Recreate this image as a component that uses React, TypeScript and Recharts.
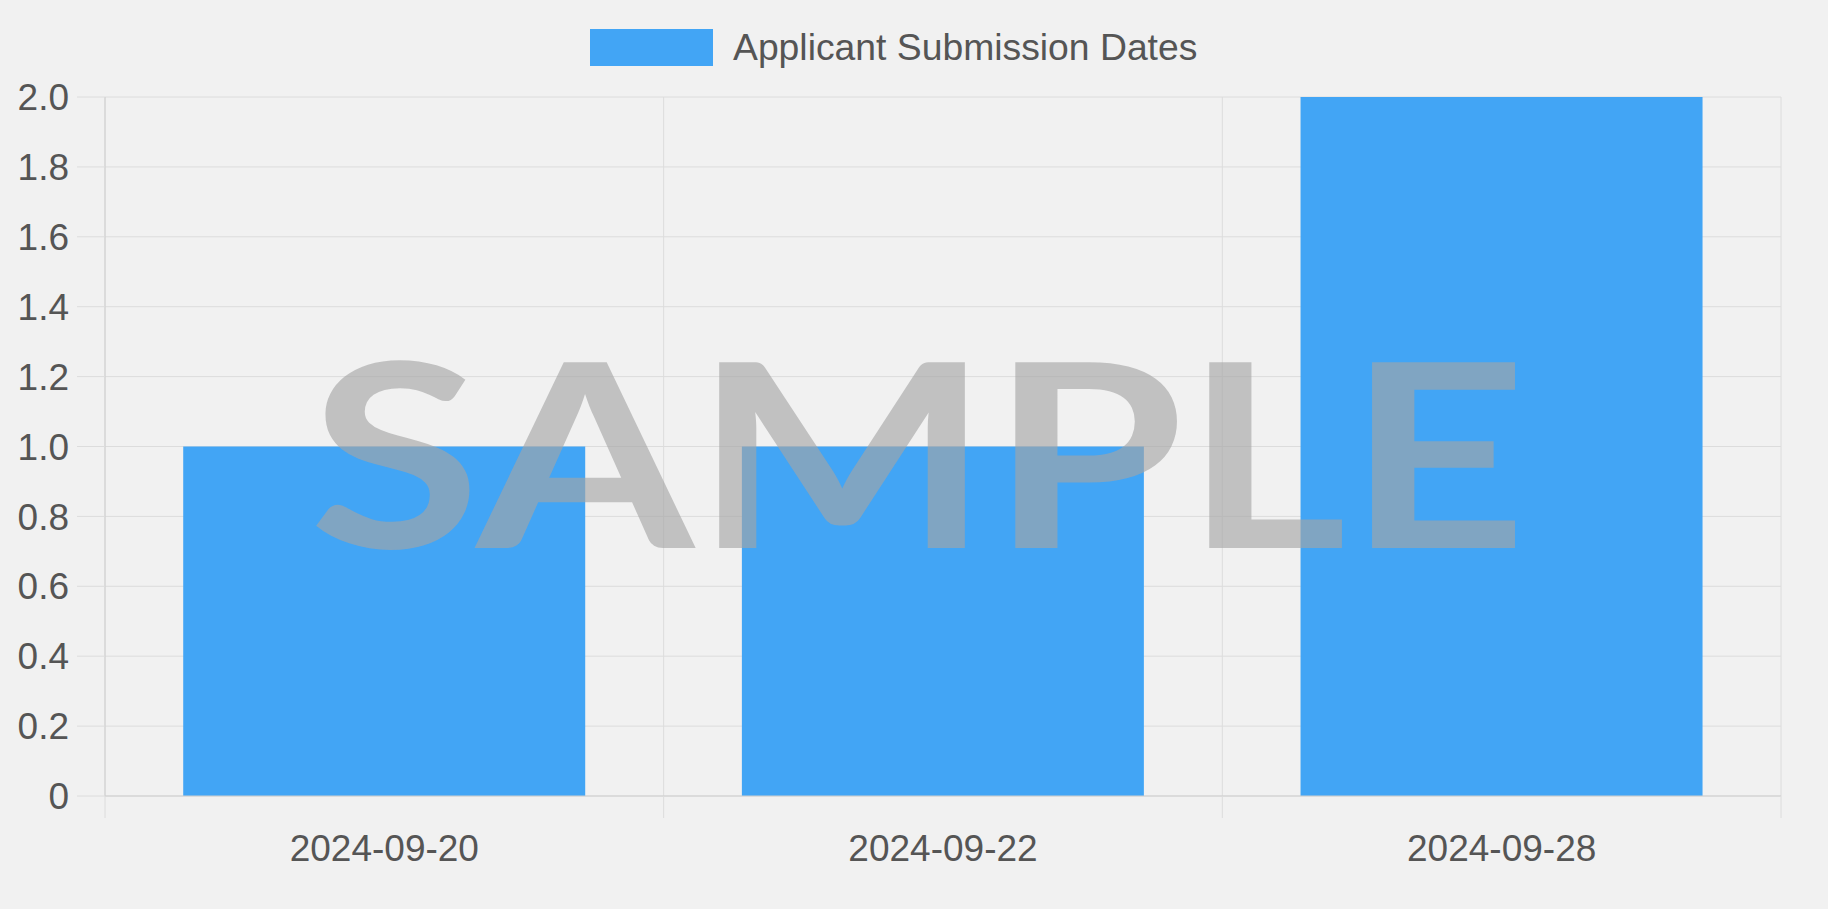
import React from 'react';
import { BarChart, Bar, XAxis, YAxis, CartesianGrid } from 'recharts';

const categories = ['2024-09-20', '2024-09-22', '2024-09-28'];
const submissions = [1, 1, 2];
const yTicks = [0, 0.2, 0.4, 0.6, 0.8, 1.0, 1.2, 1.4, 1.6, 1.8, 2.0];
const seriesName = 'Applicant Submission Dates';
const watermark = 'SAMPLE';

const BAR_COLOR = '#42A5F5';
const GRID_COLOR = '#dcdcdc';
const AXIS_COLOR = '#cfcfcf';
const TEXT_COLOR = '#555';
const FONT = "'Liberation Sans', Arial, Helvetica, sans-serif";
const X_TICK_LEN = 22;

const data = categories.map((date, i) => ({ date, count: submissions[i] }));

// chart.js style: tick marks sit on the category boundaries, label in the middle
const XTick = (props: any) => {
  const { x, y, payload, index, visibleTicksCount, width } = props;
  const half = (payload && payload.offset) || width / visibleTicksCount / 2;
  const top = y - X_TICK_LEN;
  return (
    <g>
      <line x1={x - half} x2={x - half} y1={top} y2={y} stroke={GRID_COLOR} />
      {index === visibleTicksCount - 1 && (
        <line x1={x + half} x2={x + half} y1={top} y2={y} stroke={GRID_COLOR} />
      )}
      <text x={x} y={y + 43} textAnchor="middle" fill={TEXT_COLOR} fontSize={37} fontFamily={FONT}>
        {payload.value}
      </text>
    </g>
  );
};

export default function App() {
  return (
    <div
      style={{
        position: 'absolute',
        left: 0,
        top: 0,
        width: 1828,
        height: 909,
        background: '#f1f1f1',
        fontFamily: FONT,
        overflow: 'hidden',
      }}
    >
      {/* legend */}
      <div
        style={{
          position: 'absolute',
          left: 590,
          top: 29,
          display: 'flex',
          alignItems: 'center',
          gap: 20,
          fontSize: 37.3,
          lineHeight: 1,
          color: TEXT_COLOR,
        }}
      >
        <div style={{ width: 123, height: 37, background: BAR_COLOR }} />
        <span>{seriesName}</span>
      </div>

      <BarChart
        width={1828}
        height={909}
        data={data}
        margin={{ top: 97, right: 47, bottom: 33, left: 0 }}
        barCategoryGap="14%"
      >
        <CartesianGrid
          stroke={GRID_COLOR}
          verticalCoordinatesGenerator={({ offset }: any) =>
            categories.concat(['']).map((_, i) => offset.left + (i * offset.width) / categories.length)
          }
        />
        <XAxis
          dataKey="date"
          height={80}
          interval={0}
          tickSize={X_TICK_LEN}
          tickMargin={0}
          tickLine={false}
          axisLine={{ stroke: AXIS_COLOR }}
          tick={<XTick />}
        />
        <YAxis
          width={105}
          domain={[0, 2]}
          ticks={yTicks}
          interval={0}
          tickSize={28}
          tickMargin={8}
          axisLine={{ stroke: AXIS_COLOR }}
          tickLine={{ stroke: GRID_COLOR }}
          tick={{ fill: TEXT_COLOR, fontSize: 37, fontFamily: FONT }}
          tickFormatter={(v: number) => (v === 0 ? '0' : v.toFixed(1))}
        />
        <Bar dataKey="count" name={seriesName} fill={BAR_COLOR} isAnimationActive={false} />
      </BarChart>

      {/* watermark */}
      <svg
        width={1828}
        height={909}
        style={{ position: 'absolute', left: 0, top: 0, pointerEvents: 'none' }}
      >
        <text
          x={309}
          y={548}
          textLength={1218}
          lengthAdjust="spacingAndGlyphs"
          fontFamily="Lato, 'Open Sans', sans-serif"
          fontWeight={700}
          fontSize={257}
          fill="#a4a4a4"
          fillOpacity={0.63}
        >
          {watermark}
        </text>
      </svg>
    </div>
  );
}
